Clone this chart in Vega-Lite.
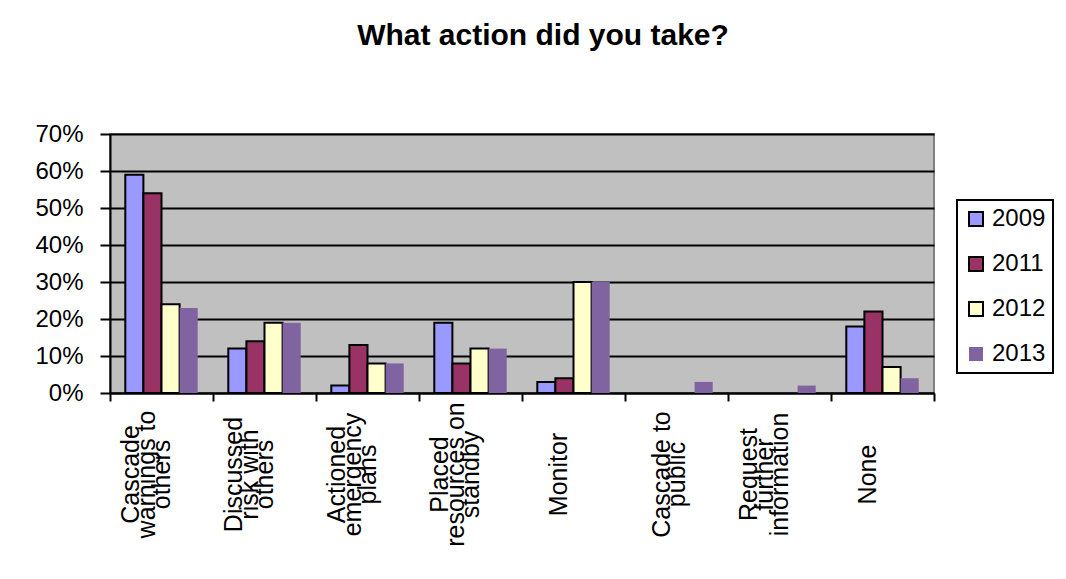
{
  "$schema": "https://vega.github.io/schema/vega-lite/v6.json",
  "width": 824,
  "height": 259,
  "autosize": {"type": "none"},
  "padding": {"left": 110, "top": 134, "right": 132, "bottom": 186},
  "background": "white",
  "title": {
    "text": "What action did you take?",
    "font": "Liberation Sans",
    "fontSize": 30,
    "fontWeight": "bold",
    "color": "black",
    "anchor": "middle",
    "frame": "group",
    "baseline": "alphabetic",
    "dx": 21,
    "offset": 47
  },
  "config": {
    "font": "Liberation Sans",
    "view": {"fill": "#C0C0C0", "stroke": "#808080", "strokeWidth": 2}
  },
  "data": {
    "values": [
      {"action": "Cascade|warnings to|others", "year": "2009", "value": 0.59},
      {"action": "Cascade|warnings to|others", "year": "2011", "value": 0.54},
      {"action": "Cascade|warnings to|others", "year": "2012", "value": 0.24},
      {"action": "Cascade|warnings to|others", "year": "2013", "value": 0.23},
      {"action": "Discussed|risk with|others", "year": "2009", "value": 0.12},
      {"action": "Discussed|risk with|others", "year": "2011", "value": 0.14},
      {"action": "Discussed|risk with|others", "year": "2012", "value": 0.19},
      {"action": "Discussed|risk with|others", "year": "2013", "value": 0.19},
      {"action": "Actioned|emergency|plans", "year": "2009", "value": 0.02},
      {"action": "Actioned|emergency|plans", "year": "2011", "value": 0.13},
      {"action": "Actioned|emergency|plans", "year": "2012", "value": 0.08},
      {"action": "Actioned|emergency|plans", "year": "2013", "value": 0.08},
      {"action": "Placed|resources on|standby", "year": "2009", "value": 0.19},
      {"action": "Placed|resources on|standby", "year": "2011", "value": 0.08},
      {"action": "Placed|resources on|standby", "year": "2012", "value": 0.12},
      {"action": "Placed|resources on|standby", "year": "2013", "value": 0.12},
      {"action": "Monitor", "year": "2009", "value": 0.03},
      {"action": "Monitor", "year": "2011", "value": 0.04},
      {"action": "Monitor", "year": "2012", "value": 0.30},
      {"action": "Monitor", "year": "2013", "value": 0.30},
      {"action": "Cascade to|public", "year": "2013", "value": 0.03},
      {"action": "Request|further|information", "year": "2013", "value": 0.02},
      {"action": "None", "year": "2009", "value": 0.18},
      {"action": "None", "year": "2011", "value": 0.22},
      {"action": "None", "year": "2012", "value": 0.07},
      {"action": "None", "year": "2013", "value": 0.04}
    ]
  },
  "mark": {"type": "bar", "strokeWidth": 2, "opacity": 1},
  "encoding": {
    "x": {
      "field": "action",
      "type": "nominal",
      "sort": null,
      "scale": {
        "domain": ["Cascade|warnings to|others", "Discussed|risk with|others", "Actioned|emergency|plans", "Placed|resources on|standby", "Monitor", "Cascade to|public", "Request|further|information", "None"],
        "paddingInner": 0,
        "paddingOuter": 0
      },
      "axis": {
        "title": null,
        "labelExpr": "length(split(datum.label, '|')) == 3 ? [split(datum.label, '|')[0], '\u00a0', split(datum.label, '|')[1], '\u00a0', split(datum.label, '|')[2]] : length(split(datum.label, '|')) == 2 ? ['\u00a0', split(datum.label, '|')[0], '\u00a0', split(datum.label, '|')[1], '\u00a0'] : ['\u00a0', '\u00a0', datum.label, '\u00a0', '\u00a0']",
        "labelAngle": -90,
        "labelAlign": "center",
        "labelBaseline": "middle",
        "labelFontSize": 25,
        "labelLineHeight": 15.5,
        "labelOffset": -31,
        "labelColor": "black",
        "labelPadding": 73,
        "labelFont": "Liberation Sans",
        "tickBand": "extent",
        "tickSize": 8,
        "tickWidth": 2,
        "tickColor": "black",
        "domainColor": "black",
        "domainWidth": 2
      }
    },
    "xOffset": {
      "field": "year",
      "type": "nominal",
      "scale": {"domain": ["2009", "2011", "2012", "2013"], "paddingInner": 0, "paddingOuter": 0.845}
    },
    "y": {
      "field": "value",
      "type": "quantitative",
      "scale": {"domain": [0, 0.7], "nice": false},
      "axis": {
        "title": null,
        "values": [0, 0.1, 0.2, 0.3, 0.4, 0.5, 0.6, 0.7],
        "format": ".0%",
        "labelFontSize": 24,
        "labelColor": "black",
        "labelPadding": 17,
        "labelFont": "Liberation Sans",
        "tickSize": 10,
        "tickWidth": 2,
        "tickColor": "black",
        "domainColor": "black",
        "domainWidth": 2,
        "grid": true,
        "gridColor": "black",
        "gridWidth": 2,
        "gridOpacity": 1
      }
    },
    "color": {
      "field": "year",
      "type": "nominal",
      "scale": {"domain": ["2009", "2011", "2012", "2013"], "range": ["#9999FF", "#993366", "#FFFFCC", "#8064A2"]},
      "legend": {
        "title": null,
        "orient": "none",
        "legendX": 847,
        "legendY": 66,
        "strokeColor": "black",
        "fillColor": "white",
        "padding": 7,
        "rowPadding": 21,
        "symbolType": "square",
        "symbolSize": 196,
        "symbolOpacity": 1,
        "labelFontSize": 24,
        "labelFont": "Liberation Sans",
        "labelColor": "black",
        "labelOffset": 4,
        "encode": {
          "legend": {"update": {"strokeWidth": {"value": 2}}},
          "symbols": {"update": {"strokeWidth": {"value": 2}}}
        }
      }
    },
    "stroke": {
      "field": "year",
      "type": "nominal",
      "scale": {"domain": ["2009", "2011", "2012", "2013"], "range": ["black", "black", "black", "transparent"]},
      "legend": null
    }
  }
}
